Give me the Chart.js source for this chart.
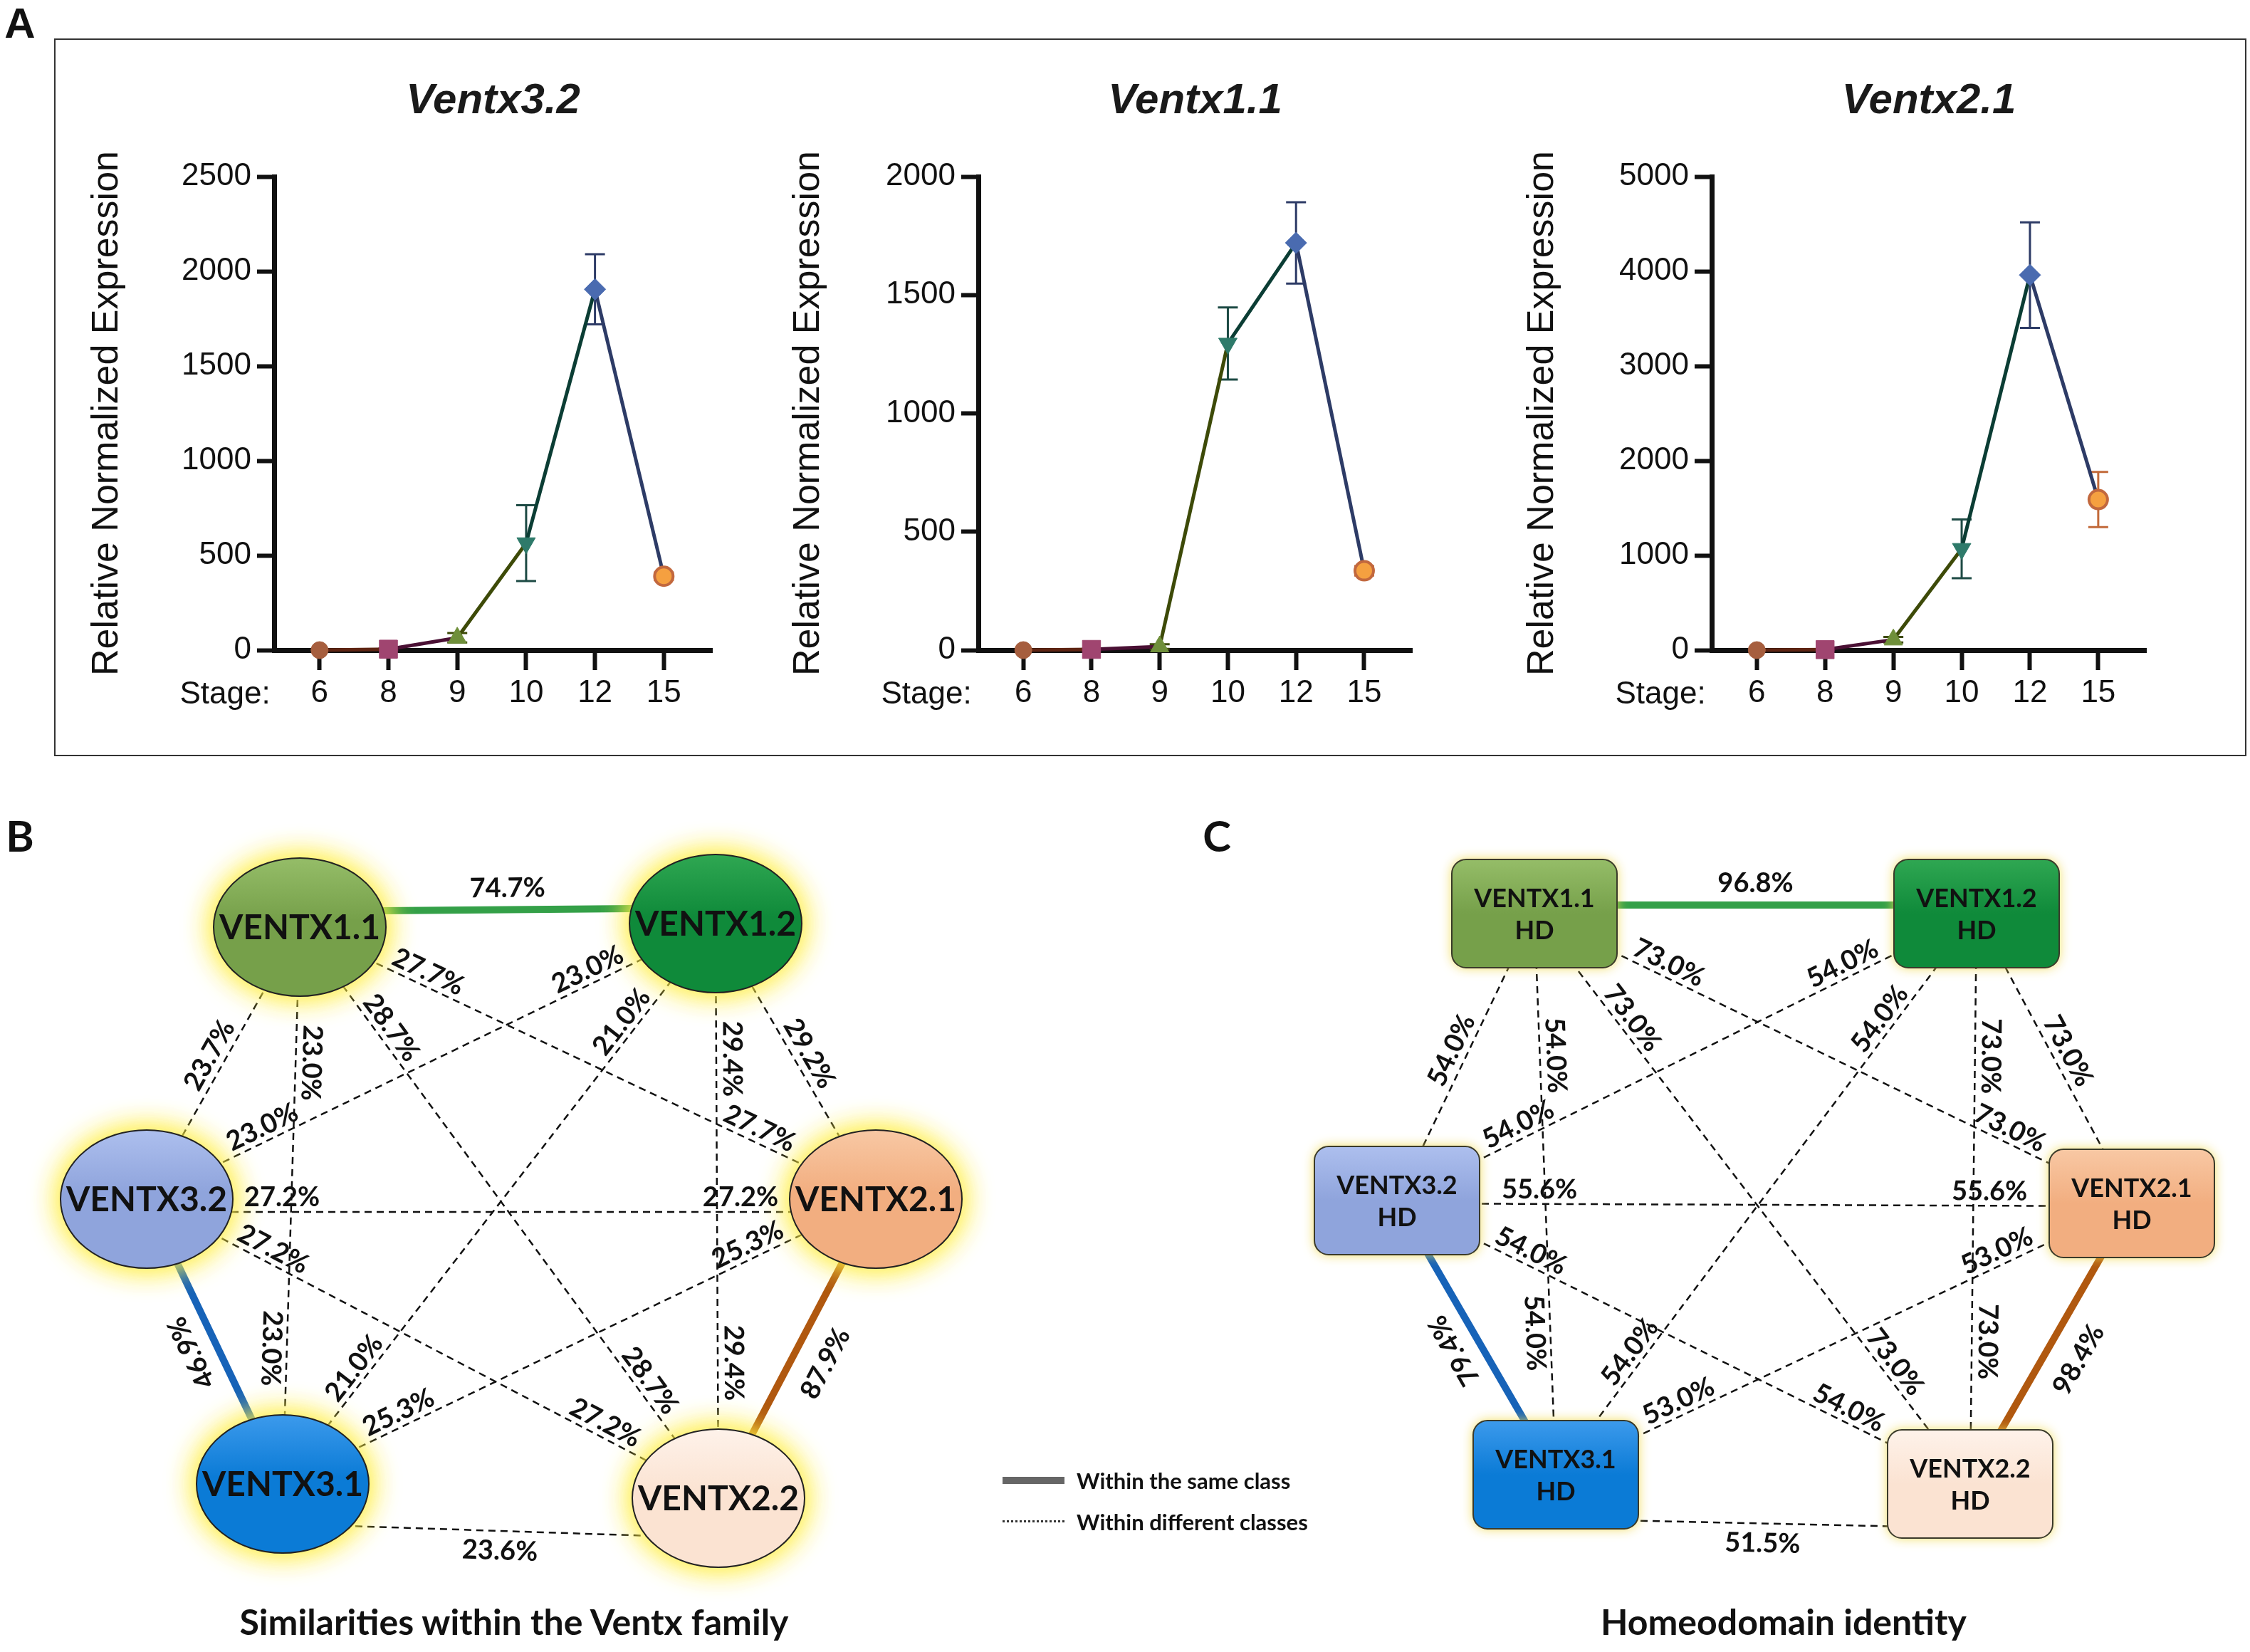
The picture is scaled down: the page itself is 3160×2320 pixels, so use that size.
<!DOCTYPE html>
<html>
<head>
<meta charset="utf-8">
<script src="https://cdn.jsdelivr.net/npm/chart.js@4.4.1/dist/chart.umd.min.js"></script>
<style>
  body { margin: 0; background: #fff; width: 3160px; height: 2320px; position: relative; overflow: hidden; }
  canvas { position: absolute; }
  #boxA { position: absolute; left: 76px; top: 54px; width: 3079px; height: 1008px; border: 2px solid #333; box-sizing: border-box; }
  .panel { position: absolute; font: bold 60px Lato, sans-serif; color: #111; transform: translate(-50%, -50%); }
  .stage { position: absolute; top: 973px; font: 44px "Liberation Sans", Arial, sans-serif; color: #111; transform: translate(-50%, -50%); }
  .sub { position: absolute; top: 2277px; font: bold 50px Lato, sans-serif; color: #111; transform: translate(-50%, -50%); white-space: nowrap; }
  .legtxt { position: absolute; left: 1512px; font: bold 31px Lato, sans-serif; color: #111; transform: translateY(-50%); white-space: nowrap; }
</style>
</head>
<body>
<div id="boxA"></div>
<div class="panel" style="left:28px;top:32px;font-family:'Liberation Sans',Arial">A</div>
<div class="panel" style="left:28px;top:1173px">B</div>
<div class="panel" style="left:1709px;top:1173px">C</div>

<canvas id="c32" width="930" height="988" style="left:100px;top:62px"></canvas>
<canvas id="c11" width="924" height="988" style="left:1089px;top:62px"></canvas>
<canvas id="c21" width="925" height="988" style="left:2119px;top:62px"></canvas>
<div class="stage" style="left:316px">Stage:</div>
<div class="stage" style="left:1301px">Stage:</div>
<div class="stage" style="left:2332px">Stage:</div>

<canvas id="netB" width="1600" height="1220" style="left:0px;top:1100px"></canvas>
<canvas id="netC" width="1560" height="1220" style="left:1600px;top:1100px"></canvas>

<div style="position:absolute;left:1408px;top:2074px;width:87px;height:10px;background:#666"></div>
<div style="position:absolute;left:1408px;top:2135px;width:87px;border-top:3px dotted #333"></div>
<div class="legtxt" style="top:2079px">Within the same class</div>
<div class="legtxt" style="top:2137px">Within different classes</div>

<div class="sub" style="left:722px">Similarities within the Ventx family</div>
<div class="sub" style="left:2505px">Homeodomain identity</div>

<script>
// ---------- data: panel A (qPCR) ----------
const stages = ['6', '8', '9', '10', '12', '15'];

const ventx32 = [0, 5, 65, 565, 1905, 390];
const ventx32Err = [0, 3, 25, 200, 185, 20];

const ventx11 = [0, 3, 15, 1295, 1720, 335];
const ventx11Err = [0, 2, 10, 152, 172, 20];

const ventx21 = [0, 5, 110, 1070, 3960, 1590];
const ventx21Err = [0, 3, 30, 310, 557, 292];

// ---------- data: panels B and C (pairwise identity) ----------
const nodeNames = ['VENTX1.1', 'VENTX1.2', 'VENTX3.2', 'VENTX2.1', 'VENTX3.1', 'VENTX2.2'];
const edgeFrom  = [0, 4, 5, 2, 0, 0, 0, 2, 4, 1, 1, 2, 2, 4, 4];
const edgeTo    = [1, 2, 3, 0, 4, 3, 5, 1, 1, 3, 5, 3, 5, 3, 5];
const sameClass = [true, true, true, false, false, false, false, false, false, false, false, false, false, false, false];
const familyPct = [74.7, 46.9, 87.9, 23.7, 23.0, 27.7, 28.7, 23.0, 21.0, 29.2, 29.4, 27.2, 27.2, 25.3, 23.6];
const hdPct     = [96.8, 79.4, 98.4, 54.0, 54.0, 73.0, 73.0, 54.0, 54.0, 73.0, 73.0, 55.6, 54.0, 53.0, 51.5];

// ---------- layout / styles ----------
const famX = [421, 1005, 206, 1230, 397, 1009];
const famY = [202, 197, 584, 584, 984, 1004];
const hdX = [555, 1176, 362, 1394, 585, 1167];
const hdY = [183, 183, 586, 590, 971, 984];

// vertical shift of an edge away from the node centres
const famShift = [-22, 0, 0, 0, 0, 0, 0, 0, 0, 0, 0, 18, 0, 0, 56];
const hdShift  = [-12, 0, 0, 0, 0, 0, 0, 0, 0, 0, 0, 4, 0, 0, 62];

// which side of the edge each label sits on (1 = above the text line), one entry per label
const labelSides = [[1], [1], [-1], [1], [1, -1], [1, 1], [1, 1], [1, 1], [1, 1], [1], [1, 1], [1, 1], [1, 1], [1, 1], [-1]];
const labelOff   = [30, 36, 45, 22, 22, 20, 20, 20, 20, 22, 22, 20, 20, 20, 28];

const segColors = ['#5e2412', '#4a1034', '#3d4a08', '#0b3d34', '#2d3b66'];
const ptColors  = ['#a65e3e', '#a04570', '#6f8f3a', '#2e7a6a', '#4a6bb0', '#f5a040'];
const ptBorders = ['#a65e3e', '#a04570', '#6f8f3a', '#2e7a6a', '#4a6bb0', '#c2683e'];
const ptStyles  = ['circle', 'rect', 'triangle', 'triangle', 'rectRot', 'circle'];
const ptRot     = [0, 0, 0, 180, 0, 0];
const ptRadius  = [12, 18, 15, 15, 15, 13];
const errColors = ['#5e2412', '#4a1034', '#3d4a08', '#1d4a44', '#2d3b66', '#c26a3a'];

const nodeColor = ['#76a04a', '#0f8a3a', '#8fa4dc', '#f2ae80', '#0b7bd6', '#fbe3d2'];
const nodeLight = ['#95bd68', '#2fa752', '#adbfee', '#f8c8a4', '#3c9aec', '#fef2ea'];
const edgeColor = ['#34a048', '#1763b8', '#b0580f'];

const axisFont = { family: 'Liberation Sans', size: 44 };

// ====================================================
// panel A charts
// ====================================================
function errorBarPlugin(values, errors) {
  return {
    id: 'errorBars',
    beforeDatasetsDraw(chart) {
      const { ctx, scales: { x, y } } = chart;
      ctx.save();
      ctx.lineWidth = 3;
      errors.forEach((e, i) => {
        if (!e) return;
        const px = x.getPixelForValue(i);
        const top = y.getPixelForValue(values[i] + e);
        const bot = y.getPixelForValue(values[i] - e);
        ctx.strokeStyle = errColors[i];
        ctx.beginPath();
        ctx.moveTo(px, top); ctx.lineTo(px, bot);
        ctx.moveTo(px - 14, top); ctx.lineTo(px + 14, top);
        ctx.moveTo(px - 14, bot); ctx.lineTo(px + 14, bot);
        ctx.stroke();
      });
      ctx.restore();
    }
  };
}

function makeExpression(id, title, values, errors, yMax, step, titlePad) {
  new Chart(document.getElementById(id), {
    type: 'line',
    data: {
      datasets: [{
        data: values.map((v, i) => ({ x: i, y: v })),
        borderWidth: 5,
        segment: { borderColor: c => segColors[c.p0DataIndex] },
        borderColor: segColors[0],
        pointStyle: ptStyles,
        rotation: ptRot,
        pointRadius: ptRadius,
        pointBackgroundColor: ptColors,
        pointBorderColor: ptBorders,
        pointBorderWidth: [1, 1, 1, 1, 1, 4],
        clip: false
      }]
    },
    options: {
      responsive: false,
      animation: false,
      layout: { padding: { left: 0, right: 30, top: 0, bottom: 0 } },
      plugins: {
        legend: { display: false },
        tooltip: { enabled: false },
        title: {
          display: true, text: title, fullSize: false, color: '#1a1a1a',
          font: { family: 'Liberation Sans', size: 60, weight: 'bold', style: 'italic' },
          padding: { top: 44, bottom: 70 }
        }
      },
      scales: {
        x: {
          type: 'linear', min: -0.66, max: 5.7,
          afterFit: s => { s.height = 137; },
          afterBuildTicks: s => { s.ticks = stages.map((_, i) => ({ value: i })); },
          ticks: { callback: v => stages[v], font: axisFont, color: '#111', padding: 6, maxRotation: 0, autoSkip: false },
          grid: { drawOnChartArea: false, tickLength: 28, tickWidth: 6, tickColor: '#111' },
          border: { width: 7, color: '#111' }
        },
        y: {
          min: 0, max: yMax,
          afterFit: s => { s.width = 285; },
          ticks: { stepSize: step, callback: v => String(v), font: axisFont, color: '#111', padding: 8 },
          grid: { drawOnChartArea: false, tickLength: 24, tickWidth: 6, tickColor: '#111' },
          border: { width: 7, color: '#111' },
          title: {
            display: true, text: 'Relative Normalized Expression', color: '#111',
            font: { family: 'Liberation Sans', size: 52 },
            padding: { top: titlePad, bottom: 0 }
          }
        }
      }
    },
    plugins: [errorBarPlugin(values, errors)]
  });
}

makeExpression('c32', 'Ventx3.2', ventx32, ventx32Err, 2500, 500, 19);
makeExpression('c11', 'Ventx1.1', ventx11, ventx11Err, 2000, 500, 15);
makeExpression('c21', 'Ventx2.1', ventx21, ventx21Err, 5000, 1000, 16);

// ====================================================
// panels B and C: networks
// ====================================================
function drawEllipseNode(ctx, px, py, i) {
  const rx = 121, ry = 97;
  ctx.beginPath();
  ctx.ellipse(px, py, rx, ry, 0, 0, Math.PI * 2);
  ctx.shadowColor = 'rgba(255, 238, 70, 0.95)';
  ctx.shadowBlur = 42;
  ctx.fillStyle = nodeColor[i];
  ctx.fill(); ctx.fill();
  ctx.shadowBlur = 0;
  ctx.shadowColor = 'transparent';
  const g = ctx.createLinearGradient(px, py - ry, px, py + ry);
  g.addColorStop(0, nodeLight[i]);
  g.addColorStop(0.45, nodeColor[i]);
  g.addColorStop(1, nodeColor[i]);
  ctx.fillStyle = g;
  ctx.fill();
  ctx.lineWidth = 2;
  ctx.strokeStyle = '#222';
  ctx.stroke();
  ctx.fillStyle = '#111';
  ctx.font = 'bold 48px Lato';
  ctx.textAlign = 'center';
  ctx.textBaseline = 'middle';
  ctx.fillText(nodeNames[i], px, py + 2);
}

function drawBoxNode(ctx, px, py, i) {
  const w = 232, h = 152;
  ctx.beginPath();
  ctx.roundRect(px - w / 2, py - h / 2, w, h, 20);
  ctx.shadowColor = 'rgba(240, 218, 80, 0.95)';
  ctx.shadowBlur = 16;
  ctx.fillStyle = nodeColor[i];
  ctx.fill();
  ctx.shadowBlur = 0;
  ctx.shadowColor = 'transparent';
  const g = ctx.createLinearGradient(px, py - h / 2, px, py + h / 2);
  g.addColorStop(0, nodeLight[i]);
  g.addColorStop(0.5, nodeColor[i]);
  g.addColorStop(1, nodeColor[i]);
  ctx.fillStyle = g;
  ctx.fill();
  ctx.lineWidth = 2;
  ctx.strokeStyle = '#3a3a2a';
  ctx.stroke();
  ctx.fillStyle = '#111';
  ctx.font = 'bold 36px Lato';
  ctx.textAlign = 'center';
  ctx.textBaseline = 'middle';
  ctx.fillText(nodeNames[i], px, py - 21);
  ctx.fillText('HD', px, py + 24);
}

function edgeData(nx, ny, shift, k) {
  const a = edgeFrom[k], b = edgeTo[k];
  return [{ x: nx[a], y: ny[a] + shift[k] }, { x: nx[b], y: ny[b] + shift[k] }];
}

function netPlugin(nx, ny, shift, pcts, drawNode, dLab) {
  return {
    id: 'netDecor',
    afterDatasetsDraw(chart) {
      const { ctx, scales: { x, y } } = chart;
      nx.forEach((v, i) => {
        ctx.save();
        drawNode(ctx, x.getPixelForValue(v), y.getPixelForValue(ny[i]), i);
        ctx.restore();
      });
      ctx.save();
      ctx.font = 'bold 38px Lato';
      ctx.fillStyle = '#111';
      ctx.textAlign = 'center';
      ctx.textBaseline = 'middle';
      edgeFrom.forEach((_, k) => {
        const [p, q] = edgeData(nx, ny, shift, k);
        const ax = x.getPixelForValue(p.x), ay = y.getPixelForValue(p.y);
        const bx = x.getPixelForValue(q.x), by = y.getPixelForValue(q.y);
        const dx = bx - ax, dy = by - ay, len = Math.hypot(dx, dy);
        const th = Math.atan2(dy, dx);
        const sides = labelSides[k];
        const ts = sides.length === 1 ? [0.5] : [dLab / len, 1 - dLab / len];
        ts.forEach((t, j) => {
          ctx.save();
          ctx.translate(ax + dx * t, ay + dy * t);
          ctx.rotate(th);
          ctx.fillText(pcts[k].toFixed(1) + '%', 0, -sides[j] * labelOff[k]);
          ctx.restore();
        });
      });
      ctx.restore();
    }
  };
}

function makeNetwork(id, W, H, nx, ny, shift, pcts, drawNode, dLab) {
  const datasets = edgeFrom.map((_, k) => ({
    data: edgeData(nx, ny, shift, k),
    showLine: true,
    pointRadius: 0,
    borderColor: sameClass[k] ? edgeColor[k] : '#111',
    borderWidth: sameClass[k] ? 10 : 2.5,
    borderDash: sameClass[k] ? [] : [10, 7],
    clip: false
  }));
  new Chart(document.getElementById(id), {
    type: 'scatter',
    data: { datasets },
    options: {
      responsive: false,
      animation: false,
      layout: { padding: 0 },
      plugins: { legend: { display: false }, tooltip: { enabled: false } },
      scales: {
        x: { display: false, min: 0, max: W },
        y: { display: false, min: 0, max: H, reverse: true }
      }
    },
    plugins: [netPlugin(nx, ny, shift, pcts, drawNode, dLab)]
  });
}

makeNetwork('netB', 1600, 1220, famX, famY, famShift, familyPct, drawEllipseNode, 190);
makeNetwork('netC', 1560, 1220, hdX, hdY, hdShift, hdPct, drawBoxNode, 200);
</script>
</body>
</html>
